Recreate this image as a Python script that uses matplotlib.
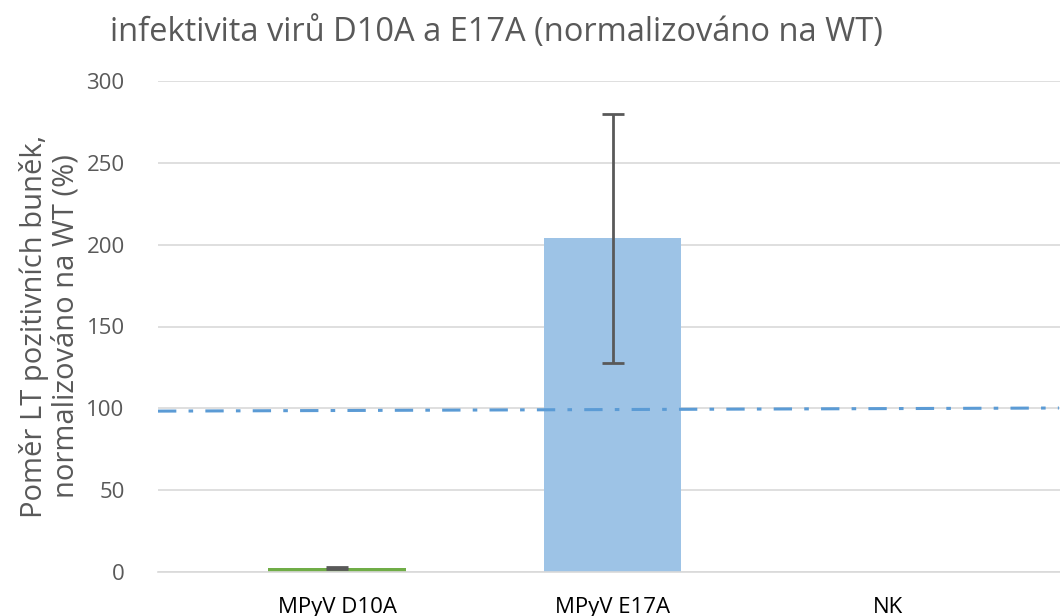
import matplotlib
matplotlib.use("Agg")
import matplotlib.pyplot as plt
import numpy as np

categories = ["MPyV D10A", "MPyV E17A", "NK"]
values = [2.5, 204, 0]
errors = [0.5, 76, 0]
bar_colors = ["#70AD47", "#9DC3E6", "#9DC3E6"]
wt_line_x = [-0.65, 2.62]
wt_line_y = [98.3, 100.2]
yticks = [0, 50, 100, 150, 200, 250, 300]

plt.rcParams['font.family'] = ['Open Sans', 'DejaVu Sans']

fig = plt.figure(figsize=(10.6, 6.16), dpi=100)
ax = fig.add_axes([158/1060, 1-572/616, (1060-158)/1060, (572-81)/616])

x = np.arange(len(categories))
ax.bar(x, values, width=0.5, color=bar_colors, zorder=2)
ax.errorbar(x[:2], values[:2], yerr=errors[:2], fmt='none', ecolor='#595959',
            elinewidth=2, capsize=8, capthick=2, zorder=3)
ax.plot(wt_line_x, wt_line_y, color='#5B9BD5', lw=2.2, linestyle=(0, (6, 4, 1.5, 4)), zorder=4)

ax.set_xlim(-0.65, 2.624)
ax.set_ylim(0, 300)
ax.set_yticks(yticks)
ax.set_xticks(x)
ax.set_xticklabels(categories, fontsize=16, color='#000000')
ax.tick_params(axis='y', labelsize=16, labelcolor='#595959', length=0, pad=24)
ax.tick_params(axis='x', length=0, pad=18)
ax.grid(axis='y', color='#D9D9D9', lw=1.2, zorder=0)
for s in ['top', 'right', 'left']:
    ax.spines[s].set_visible(False)
ax.spines['bottom'].set_color('#D9D9D9')
ax.spines['bottom'].set_linewidth(1.2)

ax.set_ylabel("Poměr LT pozitivních buněk,\nnormalizováno na WT (%)", fontsize=21,
              color='#595959', labelpad=4, linespacing=1.15)
fig.text(110/1060, 1-33/616, "infektivita virů D10A a E17A (normalizováno na WT)",
         fontsize=23.5, color='#595959', va='center', ha='left')

fig.savefig("out.png", dpi=100)
